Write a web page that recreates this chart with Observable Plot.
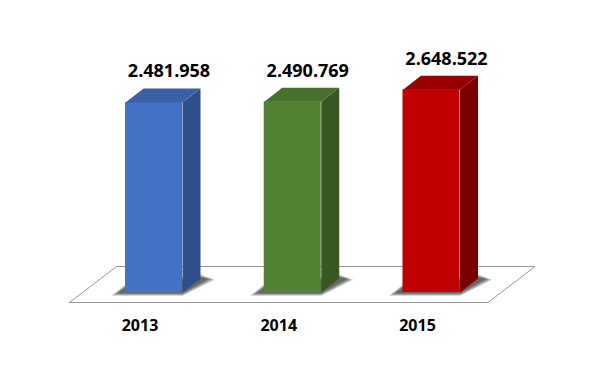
<!DOCTYPE html>
<html>
<head>
<meta charset="utf-8">
<script src="https://cdn.jsdelivr.net/npm/d3@7"></script>
<script src="https://cdn.jsdelivr.net/npm/@observablehq/plot@0.6"></script>
<style>
  html, body { margin: 0; padding: 0; background: #fff; }
  #chart { width: 600px; height: 366px; }
</style>
</head>
<body>
<div id="chart"></div>
<script>
// ---- data ----
const years = ["2013", "2014", "2015"];
const values = [2481958, 2490769, 2648522];
const valueLabels = ["2.481.958", "2.490.769", "2.648.522"];
const frontColors = ["#4472C4", "#548235", "#C00000"];
const sideColors = ["#2F4F8C", "#385723", "#7A0000"];
const topColors = ["#3A60A6", "#46702C", "#980000"];

// ---- geometry (px → data units) ----
const PX_PER_SLOT = 138.75;          // horizontal px between bars
const PX_PER_UNIT = 190 / 2481958;   // vertical px per value unit
const sx = px => px / PX_PER_SLOT;
const sv = px => px / PX_PER_UNIT;
const HALF = sx(28.5);   // half front width
const DX = sx(18);       // depth offset x
const DY = sv(14);       // depth offset y (upwards)

const W = 600, H = 366;
const X0 = 153.5, Y0 = 292; // pixel position of slot 0 / value 0
const xDomain = [sx(-X0), sx(W - X0)];
const yDomain = [sv(Y0 - H), sv(Y0)];

const bars = years.map((year, i) => ({
  i, year, value: values[i], label: valueLabels[i],
  front: frontColors[i], side: sideColors[i], top: topColors[i]
}));

// polygons built from the data
const sides = bars.flatMap(b => [
  {id: b.i, color: b.side, x: b.i + HALF, y: 0},
  {id: b.i, color: b.side, x: b.i + HALF + DX, y: DY},
  {id: b.i, color: b.side, x: b.i + HALF + DX, y: b.value + DY},
  {id: b.i, color: b.side, x: b.i + HALF, y: b.value}
]);
const tops = bars.flatMap(b => [
  {id: b.i, color: b.top, x: b.i - HALF, y: b.value},
  {id: b.i, color: b.top, x: b.i + HALF, y: b.value},
  {id: b.i, color: b.top, x: b.i + HALF + DX, y: b.value + DY},
  {id: b.i, color: b.top, x: b.i - HALF + DX, y: b.value + DY}
]);
// soft shadow: several nested footprints, each faint
const layers = [0, 1, 2, 3];
const shadows = bars.flatMap(b => layers.flatMap(k => {
  const e = 4 - k; // expansion in px (outer layers bigger)
  const id = b.i * 10 + k;
  return [
    {id, x: b.i - HALF - sx(6 + 2 * e), y: -sv(e * 0.8)},
    {id, x: b.i + HALF, y: -sv(e * 0.8)},
    {id, x: b.i + HALF + DX + sx(6 + 2 * e), y: DY - sv(e * 0.3)},
    {id, x: b.i + HALF + DX, y: DY + sv(e)},
    {id, x: b.i - HALF, y: sv(4 + e)}
  ];
}));
// floor parallelogram around the bars
const first = 0, last = bars.length - 1;
const fFront = -sv(10), fBack = sv(26);
const floor = [
  {x: first - HALF - sx(56), y: fFront},
  {x: last + HALF + sx(28), y: fFront},
  {x: last + HALF + sx(75), y: fBack},
  {x: first - HALF - sx(9), y: fBack},
  {x: first - HALF - sx(56), y: fFront}
];

const chart = Plot.plot({
  width: W, height: H,
  marginTop: 0, marginBottom: 0, marginLeft: 0, marginRight: 0,
  x: {domain: xDomain, axis: null},
  y: {domain: yDomain, axis: null},
  color: {type: "identity"},
  style: {fontFamily: "'Open Sans', sans-serif", background: "#fff"},
  marks: [
    Plot.line(floor, {x: "x", y: "y", fill: "#fff", stroke: "#999", strokeWidth: 1}),
    Plot.line(shadows, {x: "x", y: "y", z: "id", fill: "#000", fillOpacity: 0.2, stroke: "none"}),
    Plot.rect(bars, {x1: d => d.i - HALF, x2: d => d.i + HALF, y1: d => 0, y2: "value", fill: "front"}),
    Plot.line(sides, {x: "x", y: "y", z: "id", fill: "color", stroke: null}),
    Plot.line(tops, {x: "x", y: "y", z: "id", fill: "color", stroke: null}),
    Plot.text(bars, {x: "i", y: "value", text: "label", dx: 15, dy: -31, fontSize: 18, fontWeight: "bold", fill: "#000"}),
    Plot.text(bars, {x: "i", y: d => 0, text: "year", dx: -14, dy: 33, fontSize: 16, fontWeight: "bold", fill: "#000"})
  ]
});

document.getElementById("chart").appendChild(chart);
</script>
</body>
</html>
